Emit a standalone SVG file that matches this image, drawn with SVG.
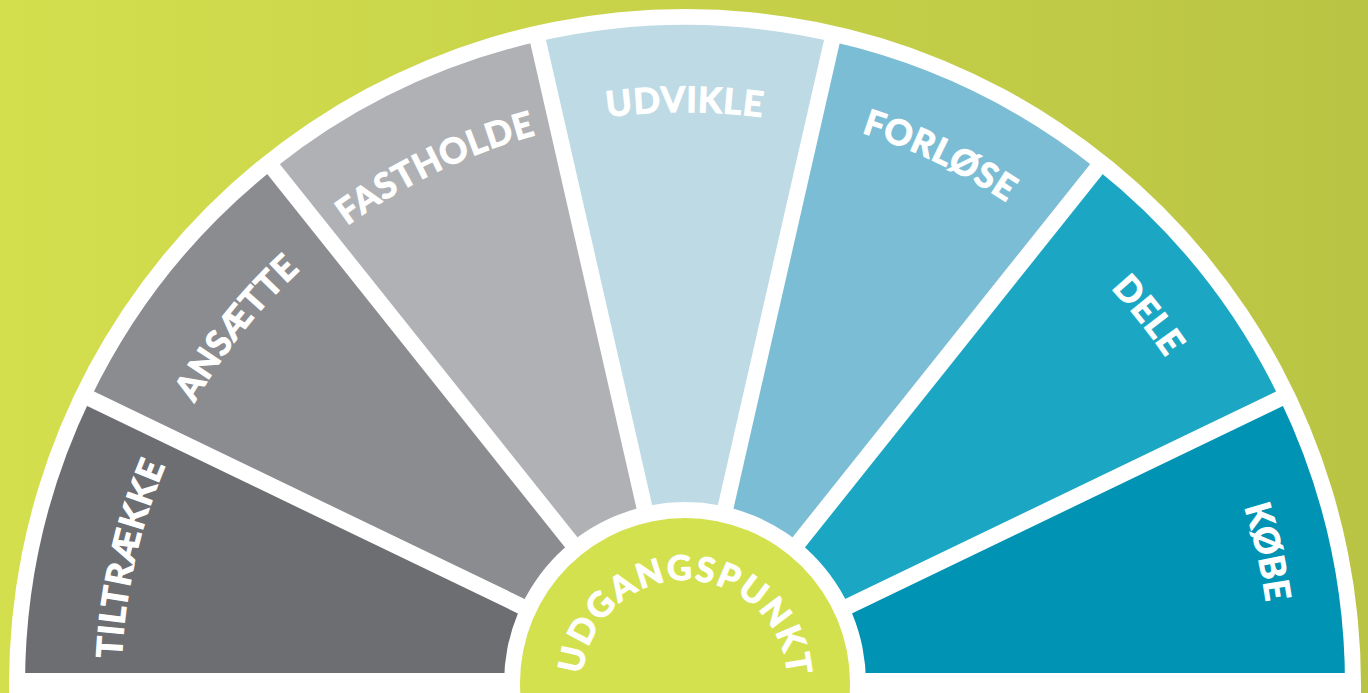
<svg xmlns="http://www.w3.org/2000/svg" xmlns:xlink="http://www.w3.org/1999/xlink" width="1368" height="693" viewBox="0 0 1368 693">
  <defs>
    <linearGradient id="bg" x1="0" y1="0" x2="1" y2="0">
      <stop offset="0" stop-color="#d3df4d"/>
      <stop offset="1" stop-color="#bac444"/>
    </linearGradient>
    <path id="arc1" d="M 121 685 A 564 564 0 0 1 1249 685"/>
    <path id="arc2" d="M 119 685 A 566 566 0 0 1 1251 685"/>
    <path id="arc3" d="M 115 685 A 570 570 0 0 1 1255 685"/>
    <path id="arc4" d="M 112 685 A 573 573 0 0 1 1258 685"/>
    <path id="arc5" d="M 105 685 A 580 580 0 0 1 1265 685"/>
    <path id="arc6" d="M 103 685 A 582 582 0 0 1 1267 685"/>
    <path id="arc7" d="M 98 685 A 587 587 0 0 1 1272 685"/>
    <path id="arcC" d="M 582 683 A 103 103 0 0 1 788 683"/>
    <style>
      .lbl { font-family: Lato, "Open Sans", "Liberation Sans", sans-serif; font-weight: 700; font-size: 35px; fill: #ffffff; stroke: #ffffff; stroke-width: 1.2px; letter-spacing: 1px; }
      .ctr { font-family: Lato, "Open Sans", "Liberation Sans", sans-serif; font-weight: 700; font-size: 34px; fill: #ffffff; stroke: #ffffff; stroke-width: 1.2px; letter-spacing: 2px; }
      .gap { stroke: #ffffff; stroke-width: 16; stroke-linecap: butt; fill: none; }
    </style>
  </defs>

  <rect x="0" y="0" width="1368" height="693" fill="url(#bg)"/>
  <circle cx="685" cy="685" r="676" fill="#ffffff"/>

  <g id="tiltraekke">
    <path d="M 685 685 L 25 685 A 660 660 0 0 1 90.36 398.64 Z" fill="#6d6e71"/>
    <text class="lbl"><textPath xlink:href="#arc1" href="#arc1" startOffset="7.143%" text-anchor="middle">TILTRÆKKE</textPath></text>
  </g>
  <g id="ansaette">
    <path d="M 685 685 L 90.36 398.64 A 660 660 0 0 1 273.50 168.99 Z" fill="#8b8c90"/>
    <text class="lbl"><textPath xlink:href="#arc2" href="#arc2" startOffset="21.43%" text-anchor="middle">ANSÆTTE</textPath></text>
  </g>
  <g id="fastholde">
    <path d="M 685 685 L 273.50 168.99 A 660 660 0 0 1 538.14 41.55 Z" fill="#b0b1b5"/>
    <text class="lbl"><textPath xlink:href="#arc3" href="#arc3" startOffset="35.71%" text-anchor="middle">FASTHOLDE</textPath></text>
  </g>
  <g id="udvikle">
    <path d="M 685 685 L 538.14 41.55 A 660 660 0 0 1 831.86 41.55 Z" fill="#bddae5"/>
    <text class="lbl"><textPath xlink:href="#arc4" href="#arc4" startOffset="50%" text-anchor="middle">UDVIKLE</textPath></text>
  </g>
  <g id="forloese">
    <path d="M 685 685 L 831.86 41.55 A 660 660 0 0 1 1096.50 168.99 Z" fill="#7bbdd5"/>
    <text class="lbl"><textPath xlink:href="#arc5" href="#arc5" startOffset="64.29%" text-anchor="middle">FORLØSE</textPath></text>
  </g>
  <g id="dele">
    <path d="M 685 685 L 1096.50 168.99 A 660 660 0 0 1 1279.64 398.64 Z" fill="#1ba7c4"/>
    <text class="lbl"><textPath xlink:href="#arc6" href="#arc6" startOffset="78.57%" text-anchor="middle">DELE</textPath></text>
  </g>
  <g id="koebe">
    <path d="M 685 685 L 1279.64 398.64 A 660 660 0 0 1 1345 685 Z" fill="#0093b3"/>
    <text class="lbl"><textPath xlink:href="#arc7" href="#arc7" startOffset="92.86%" text-anchor="middle">KØBE</textPath></text>
  </g>

  <g id="connectors">
    <line class="gap" x1="685" y1="685" x2="81.35" y2="394.30"/>
    <line class="gap" x1="685" y1="685" x2="267.26" y2="161.17"/>
    <line class="gap" x1="685" y1="685" x2="535.91" y2="31.80"/>
    <line class="gap" x1="685" y1="685" x2="834.09" y2="31.80"/>
    <line class="gap" x1="685" y1="685" x2="1102.74" y2="161.17"/>
    <line class="gap" x1="685" y1="685" x2="1288.65" y2="394.30"/>
    <rect x="18" y="673" width="1332" height="20" fill="#ffffff"/>
  </g>

  <g id="udgangspunkt">
    <circle cx="685" cy="683" r="181" fill="#ffffff"/>
    <circle cx="685" cy="683" r="165" fill="#d4e14f"/>
    <text class="ctr"><textPath xlink:href="#arcC" href="#arcC" startOffset="50.5%" text-anchor="middle">UDGANGSPUNKT</textPath></text>
  </g>
</svg>
